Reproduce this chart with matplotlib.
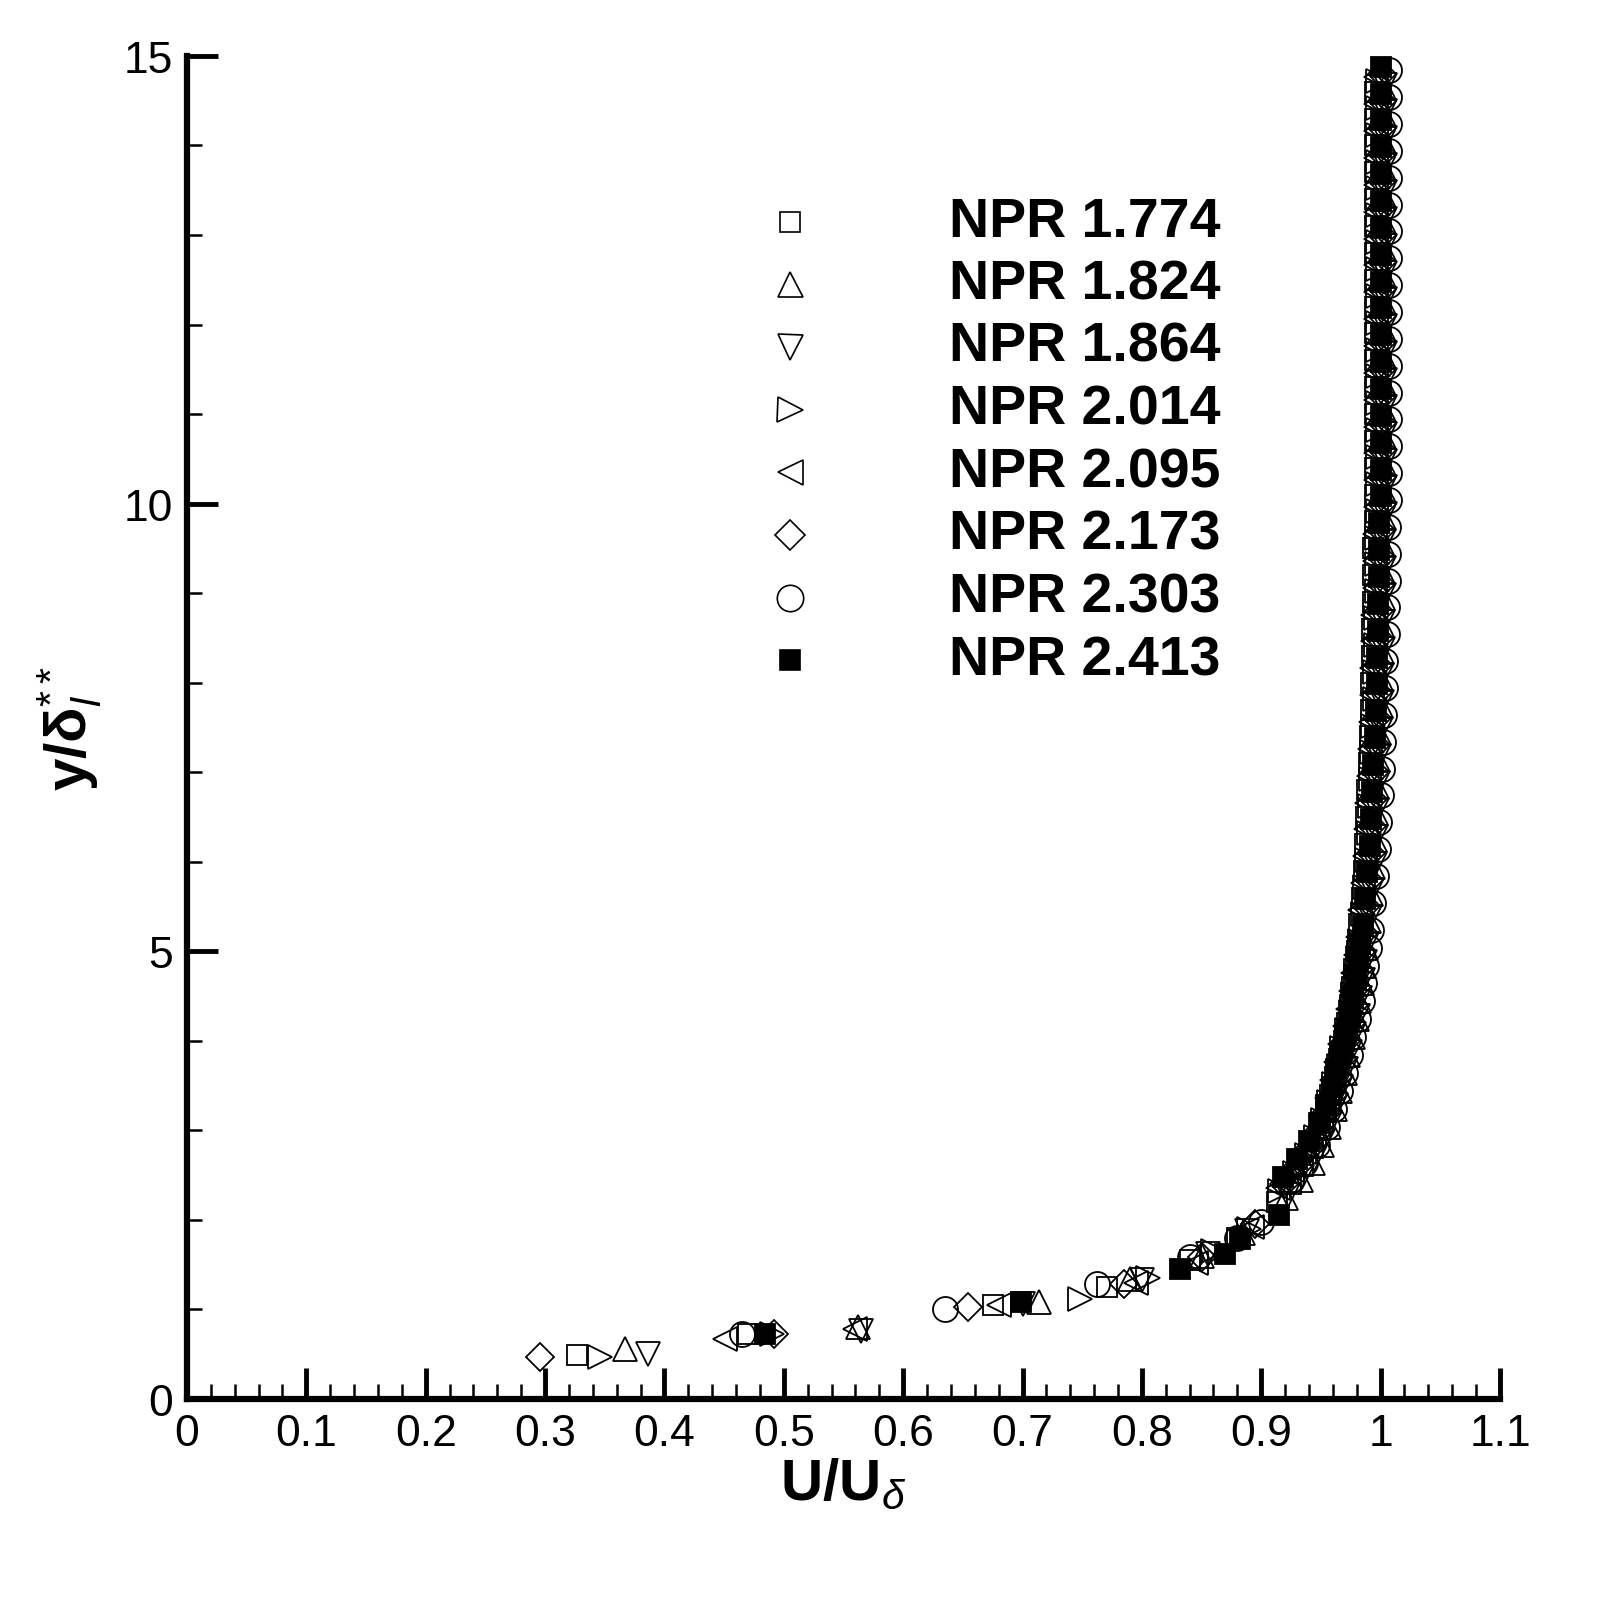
import matplotlib
matplotlib.use("Agg")
import matplotlib.pyplot as plt
from matplotlib.ticker import MultipleLocator

plt.rcParams['font.family'] = ['Liberation Sans', 'DejaVu Sans']
plt.rcParams['mathtext.fontset'] = 'custom'
plt.rcParams['mathtext.rm'] = 'Liberation Sans'
plt.rcParams['mathtext.it'] = 'Liberation Sans:italic'
plt.rcParams['mathtext.bf'] = 'Liberation Sans:bold'

labels = ["NPR 1.774", "NPR 1.824", "NPR 1.864", "NPR 2.014",
          "NPR 2.095", "NPR 2.173", "NPR 2.303", "NPR 2.413"]

# near-wall points (U/U_delta, y/delta)
low_x = {
    "NPR 1.774": [0.327, 0.470, 0.675, 0.771, 0.840, 0.880],
    "NPR 1.824": [0.367, 0.562, 0.714, 0.790, 0.850, 0.885],
    "NPR 1.864": [0.386, 0.565, 0.700, 0.800, 0.855, 0.888],
    "NPR 2.014": [0.346, 0.490, 0.748, 0.805, 0.860, 0.890],
    "NPR 2.095": [0.451, 0.560, 0.680, 0.795, 0.845, 0.892],
    "NPR 2.173": [0.296, 0.492, 0.654, 0.785, 0.850, 0.895],
    "NPR 2.303": [0.465, 0.635, 0.762, 0.840, 0.880, 0.900],
    "NPR 2.413": [0.484, 0.699, 0.832, 0.870, 0.882, 0.915],
}
low_y = {
    "NPR 1.774": [0.49, 0.73, 1.05, 1.25, 1.55, 1.80],
    "NPR 1.824": [0.56, 0.80, 1.08, 1.34, 1.60, 1.85],
    "NPR 1.864": [0.50, 0.76, 1.06, 1.33, 1.62, 1.88],
    "NPR 2.014": [0.47, 0.73, 1.12, 1.35, 1.65, 1.90],
    "NPR 2.095": [0.67, 0.78, 1.05, 1.30, 1.52, 1.92],
    "NPR 2.173": [0.47, 0.73, 1.03, 1.28, 1.58, 1.95],
    "NPR 2.303": [0.73, 1.00, 1.28, 1.58, 1.80, 1.98],
    "NPR 2.413": [0.73, 1.08, 1.45, 1.62, 1.79, 2.05],
}

# outer region profile
Y_OUTER = [2.2, 2.4, 2.6, 2.8, 3.0, 3.2, 3.4, 3.6, 3.8, 4.0, 4.2, 4.4, 4.6,
           4.8, 5.0, 5.3, 5.6, 5.9, 6.2, 6.5, 6.8, 7.1, 7.4, 7.7, 8.0, 8.3,
           8.6, 8.9, 9.2, 9.5, 9.8, 10.1, 10.4, 10.7, 11.0, 11.3, 11.6, 11.9,
           12.2, 12.5, 12.8, 13.1, 13.4, 13.7, 14.0, 14.3, 14.6]
X_OUTER = [0.918, 0.930, 0.940, 0.948, 0.954, 0.959, 0.963, 0.967, 0.970,
           0.974, 0.977, 0.979, 0.981, 0.983, 0.985, 0.987, 0.989, 0.991,
           0.992, 0.993, 0.994, 0.995, 0.996, 0.997, 0.997, 0.998, 0.998,
           0.999, 0.999, 0.999, 1.000, 1.000, 1.000, 1.000, 1.000, 1.000,
           1.000, 1.000, 1.000, 1.000, 1.000, 1.000, 1.000, 1.000, 1.000,
           1.000, 1.000]
X_SHIFT = {"NPR 1.774": -0.005, "NPR 1.824": 0.003, "NPR 1.864": 0.004,
           "NPR 2.014": -0.002, "NPR 2.095": -0.004, "NPR 2.173": 0.001,
           "NPR 2.303": 0.007, "NPR 2.413": 0.000}
Y_SHIFT = {"NPR 1.774": 0.00, "NPR 1.824": 0.04, "NPR 1.864": 0.08,
           "NPR 2.014": 0.12, "NPR 2.095": 0.16, "NPR 2.173": 0.20,
           "NPR 2.303": 0.24, "NPR 2.413": 0.28}

markers = {"NPR 1.774": 's', "NPR 1.824": '^', "NPR 1.864": 'v',
           "NPR 2.014": '>', "NPR 2.095": '<', "NPR 2.173": 'D',
           "NPR 2.303": 'o', "NPR 2.413": 's'}
msizes = {"NPR 1.774": 14, "NPR 1.824": 17, "NPR 1.864": 17,
          "NPR 2.014": 17, "NPR 2.095": 17, "NPR 2.173": 14,
          "NPR 2.303": 18, "NPR 2.413": 14}

fig = plt.figure(figsize=(16.12, 16.08), dpi=100)
ax = fig.add_axes([0.116, 0.1294, 0.8145, 0.8352])

for lab in labels:
    xs = low_x[lab] + [v + X_SHIFT[lab] for v in X_OUTER]
    ys = low_y[lab] + [v + Y_SHIFT[lab] for v in Y_OUTER]
    fc = 'black' if lab == "NPR 2.413" else 'none'
    ax.plot(xs, ys, linestyle='none', marker=markers[lab], ms=msizes[lab],
            mfc=fc, mec='black', mew=1.3, clip_on=False)

ax.set_xlim(0, 1.1)
ax.set_ylim(0, 15)
for s in ['top', 'right']:
    ax.spines[s].set_visible(False)
for s in ['left', 'bottom']:
    ax.spines[s].set_linewidth(4.5)
xt = [0, 0.1, 0.2, 0.3, 0.4, 0.5, 0.6, 0.7, 0.8, 0.9, 1.0, 1.1]
ax.set_xticks(xt)
ax.set_xticklabels(['0', '0.1', '0.2', '0.3', '0.4', '0.5', '0.6', '0.7',
                    '0.8', '0.9', '1', '1.1'])
ax.xaxis.set_minor_locator(MultipleLocator(0.02))
ax.set_yticks([0, 5, 10, 15])
ax.yaxis.set_minor_locator(MultipleLocator(1))
ax.tick_params(which='major', direction='in', length=22, width=3.5,
               labelsize=32, pad=10)
ax.tick_params(which='minor', direction='in', length=11, width=1.8)
ax.set_xlabel(r'$\mathbf{U/U}_{\delta}$', fontsize=42, labelpad=2)
ax.set_ylabel(r'$\mathbf{y/\delta}_{l}^{**}$', fontsize=42, labelpad=14)

# legend
leg_y = [13.15, 12.45, 11.75, 11.05, 10.35, 9.65, 8.95, 8.25]
for lab, yy in zip(labels, leg_y):
    fc = 'black' if lab == "NPR 2.413" else 'none'
    ax.plot([0.505], [yy], linestyle='none', marker=markers[lab],
            ms=msizes[lab] + 1, mfc=fc, mec='black', mew=1.2)
    ax.text(0.638, yy, lab, fontsize=40, fontweight='bold', va='center')

fig.savefig('out.png', dpi=100)
